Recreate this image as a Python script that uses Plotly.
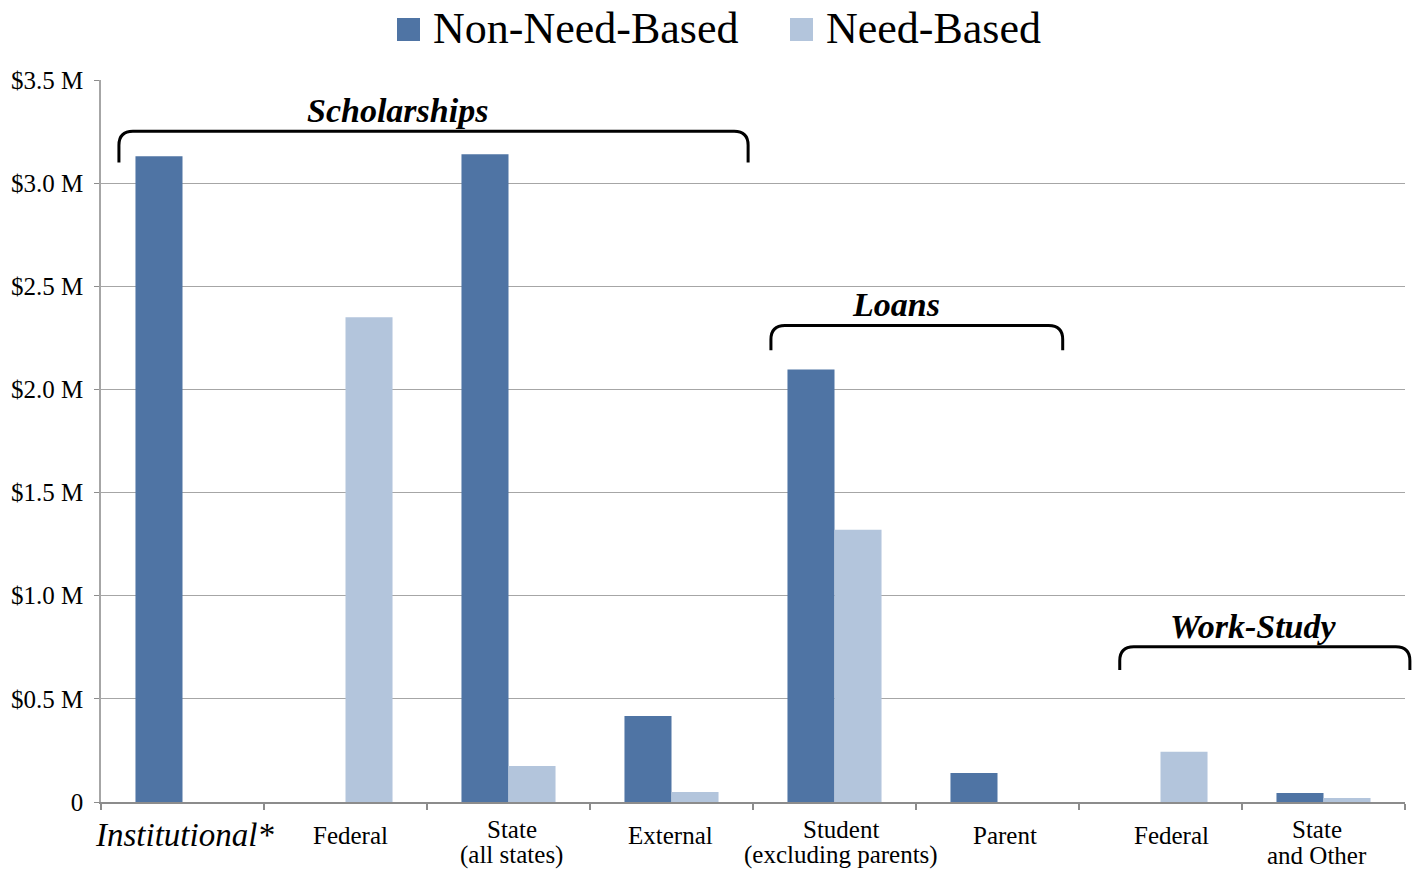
import plotly.graph_objects as go

# ---------------- data ----------------
categories = [
    "<i>Institutional*</i>",
    "Federal",
    "State<br>(all states)",
    "External",
    "Student<br>(excluding parents)",
    "Parent",
    "Federal",
    "State<br>and Other",
]
series_names = ["Non-Need-Based", "Need-Based"]
non_need_based = [3130000, 0, 3140000, 417000, 2097000, 141000, 0, 44000]
need_based = [0, 2350000, 175000, 49000, 1320000, 0, 243000, 19000]

y_tickvals = [0, 500000, 1000000, 1500000, 2000000, 2500000, 3000000, 3500000]
y_ticktext = ["0", "$0.5 M", "$1.0 M", "$1.5 M", "$2.0 M", "$2.5 M", "$3.0 M", "$3.5 M"]

group_labels = ["Scholarships", "Loans", "Work-Study"]

# ---------------- layout config ----------------
W, H = 1420, 870
ML, MT = 101, 80
MR = W - 1405
MB = H - 802
PW, PH = W - ML - MR, H - MT - MB
XMIN, XMAX = -0.5, len(categories) - 0.5
YMAX = 3500000

colors = ["#4F74A4", "#B3C5DC"]
serif = "Liberation Serif, Times New Roman, serif"

# horizontal nudges (px) of category labels
label_dx = [2, 5, 3, -1, 6, 7, 11, -7]

# bracket extents (x in category-index units, y in $)
brackets = [
    dict(x0=-0.39, x1=3.47, ytop=3252000, ybot=3100000, lx=1.32, ly=3354000),
    dict(x0=3.61, x1=5.40, ytop=2310000, ybot=2190000, lx=4.38, ly=2413000),
    dict(x0=5.75, x1=7.53, ytop=752000, ybot=640000, lx=6.57, ly=850000),
]


def xp(v):  # category index -> paper
    return (v - XMIN) / (XMAX - XMIN)


def yp(v):  # value -> paper
    return v / YMAX


def pxx(px):  # screen pixel -> paper x
    return (px - ML) / PW


def pxy(py):  # screen pixel -> paper y
    return (H - MB - py) / PH


xs = list(range(len(categories)))

fig = go.Figure()
for name, vals, c in zip(series_names, [non_need_based, need_based], colors):
    fig.add_trace(go.Bar(x=xs, y=vals, name=name, marker=dict(color=c, line=dict(width=0)),
                         showlegend=False))

shapes = []
annotations = []
rx, ry = 14 / PW, 14 / PH
for lab, b in zip(group_labels, brackets):
    x0, x1 = xp(b["x0"]), xp(b["x1"])
    yt, yb = yp(b["ytop"]), yp(b["ybot"])
    path = (f"M {x0},{yb} L {x0},{yt-ry} Q {x0},{yt} {x0+rx},{yt} "
            f"L {x1-rx},{yt} Q {x1},{yt} {x1},{yt-ry} L {x1},{yb}")
    shapes.append(dict(type="path", xref="paper", yref="paper", path=path,
                       line=dict(color="black", width=3)))
    annotations.append(dict(x=b["lx"], y=b["ly"], xref="x", yref="y", text=f"<b><i>{lab}</i></b>",
                            showarrow=False, font=dict(family=serif, size=34, color="black"),
                            xanchor="center", yanchor="middle"))

# category labels (one annotation per text line)
for i, lab in enumerate(categories):
    lines = lab.split("<br>")
    italic = lab.startswith("<i>")
    for j, ln in enumerate(lines):
        shift = 33 if len(lines) == 1 else 27 + 26 * j
        annotations.append(dict(x=xs[i], y=0, xref="x", yref="paper", text=ln, showarrow=False,
                                xanchor="center", yanchor="middle", yshift=-shift,
                                xshift=label_dx[i], borderpad=0,
                                font=dict(family=serif, size=33 if italic else 25, color="black")))

# manual legend
legend_items = [(397, 420, 431), (790, 813, 824)]
for (sx0, sx1, tx), name, c in zip(legend_items, series_names, colors):
    shapes.append(dict(type="rect", xref="paper", yref="paper",
                       x0=pxx(sx0), x1=pxx(sx1), y0=pxy(41), y1=pxy(18),
                       fillcolor=c, line=dict(width=0)))
    annotations.append(dict(x=pxx(tx), y=pxy(29), xref="paper", yref="paper", text=name,
                            showarrow=False, font=dict(family=serif, size=44, color="black"),
                            xanchor="left", yanchor="middle"))

fig.update_layout(
    width=W, height=H,
    margin=dict(l=ML, r=MR, t=MT, b=MB, pad=0),
    paper_bgcolor="white", plot_bgcolor="white",
    barmode="group", bargap=0.423, bargroupgap=0,
    shapes=shapes, annotations=annotations,
    showlegend=False,
    font=dict(family=serif, size=24, color="black"),
)
fig.update_xaxes(
    range=[XMIN, XMAX], tickvals=xs, showticklabels=False, ticks="",
    showgrid=False, showline=True, linecolor="#8C8C8C", linewidth=1.5,
    minor=dict(tickvals=[i - 0.5 for i in range(len(categories) + 1)], ticks="outside",
               ticklen=6, tickcolor="#8C8C8C", tickwidth=1.5, showgrid=False),
    zeroline=False, fixedrange=True, automargin=False,
)
fig.update_yaxes(
    range=[0, YMAX], tickvals=y_tickvals, ticktext=y_ticktext,
    showgrid=True, gridcolor="#A6A6A6", gridwidth=1,
    showline=True, linecolor="#A6A6A6", linewidth=1.5,
    ticks="outside", ticklen=5, tickcolor="#8C8C8C",
    tickfont=dict(family=serif, size=25, color="black"), ticklabelstandoff=6,
    zeroline=False, fixedrange=True, automargin=False,
)

fig.write_html("out.html", config={"displayModeBar": False},
               post_script="document.body.style.margin='0';document.body.style.overflow='hidden';")
